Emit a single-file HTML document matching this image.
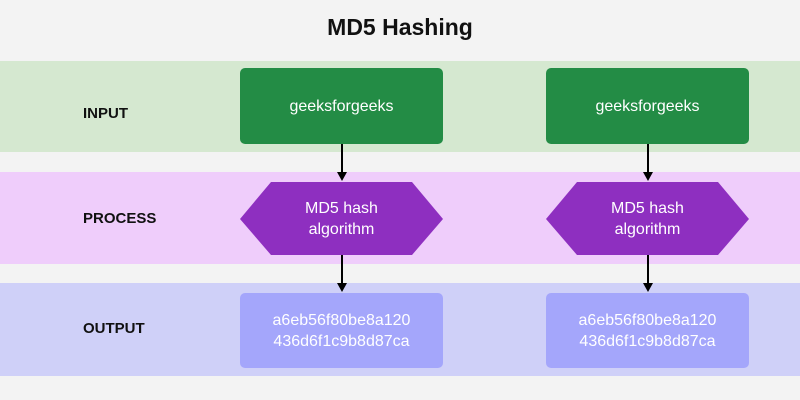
<!DOCTYPE html><html><head><style>
body{margin:0;width:800px;height:400px;background:#f3f3f3;font-family:"Liberation Sans",sans-serif;position:relative;overflow:hidden}
.a{position:absolute}
.band{position:absolute;left:0;width:800px}
.lbl{position:absolute;left:83px;font-size:15px;font-weight:bold;color:#111}
.box{position:absolute;width:203px;border-radius:5px;color:#fff;display:flex;align-items:center;justify-content:center;text-align:center;font-size:16px;line-height:21px}
</style></head><body>
<div class="a" style="left:0;top:14px;width:800px;text-align:center;font-size:23px;font-weight:bold;color:#111">MD5 Hashing</div>
<div class="band" style="top:61px;height:91px;background:#d5e8d0"></div>
<div class="band" style="top:172px;height:92px;background:#efcdfb"></div>
<div class="band" style="top:283px;height:93px;background:#cfd0f8"></div>
<div class="lbl" style="top:105px">INPUT</div>
<div class="lbl" style="top:210px">PROCESS</div>
<div class="lbl" style="top:320px">OUTPUT</div>
<svg class="a" style="left:0;top:0" width="800" height="400">
<g id="g">
<line x1="342" y1="144" x2="342" y2="174" stroke="#000" stroke-width="2"/>
<polygon points="337,172 347,172 342,181" fill="#000"/>
<line x1="342" y1="254" x2="342" y2="285" stroke="#000" stroke-width="2"/>
<polygon points="337,283 347,283 342,292" fill="#000"/>
<polygon points="240,219 271,182 412,182 443,219 412,255 271,255" fill="#8e2fc0"/>
</g>
<use href="#g" x="306"/>
</svg>
<div class="box" style="left:240px;top:68px;height:76px;background:#238c45">geeksforgeeks</div>
<div class="box" style="left:546px;top:68px;height:76px;background:#238c45">geeksforgeeks</div>
<div class="box" style="left:240px;top:182px;height:73px;background:none">MD5 hash<br>algorithm</div>
<div class="box" style="left:546px;top:182px;height:73px;background:none">MD5 hash<br>algorithm</div>
<div class="box" style="left:240px;top:293px;height:75px;background:#a4a6fb">a6eb56f80be8a120<br>436d6f1c9b8d87ca</div>
<div class="box" style="left:546px;top:293px;height:75px;background:#a4a6fb">a6eb56f80be8a120<br>436d6f1c9b8d87ca</div>
</body></html>
